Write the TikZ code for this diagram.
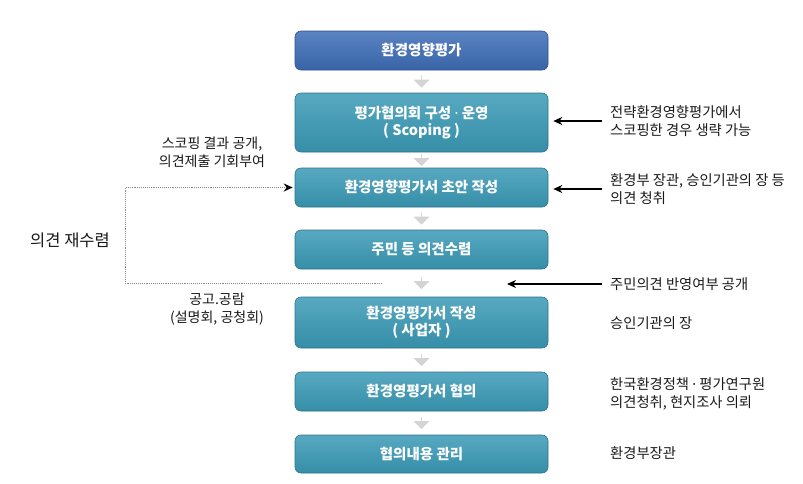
\documentclass[tikz,border=0pt]{standalone}
\usepackage{fontspec}
\setmainfont{Noto Sans CJK KR}
\newfontfamily\dotfont{Noto Sans}
\usetikzlibrary{positioning,calc,arrows.meta,shapes.arrows}

\definecolor{stepteal}{HTML}{3A9AB6}
\definecolor{stepblue}{HTML}{3D6DB6}
\newcommand{\middot}{\ {\dotfont·}\ }

\begin{document}
\begin{tikzpicture}[x=1pt,y=-1pt,font=\fontsize{14.3}{17.5}\selectfont,
  stage/.style={rounded corners=6pt,minimum width=253pt,align=center,text=white,
    font=\fontsize{14.5}{17.5}\selectfont\bfseries,draw=stepteal!75!black,line width=0.6pt,
    top color=stepteal!85!white,bottom color=stepteal!92!black},
  stagetop/.style={stage,draw=stepblue!75!black,top color=stepblue!85!white,bottom color=stepblue!92!black},
  down/.style={single arrow,shape border rotate=270,fill=black!17,draw=none,inner sep=0pt,
    minimum height=12pt,minimum width=16pt,single arrow head extend=3.5pt},
  note/.style={anchor=west,align=left,inner sep=4pt,text=black!90},
  remark/.style={align=center,inner sep=2pt,text=black!90},
  tip/.style={-{Stealth[length=9pt,width=8pt]},line width=1.3pt},
  loop/.style={densely dotted,black!45,line width=0.9pt}
]
\useasboundingbox (0,0) rectangle (803,483);

% steps
\node[stagetop,minimum height=39pt] (eia) at (421.5,50.5) {환경영향평가};
\node[stage,minimum height=59pt] (scoping) at (421.5,122.5) {평가협의회 구성\middot 운영\\( Scoping )};
\node[stage,minimum height=39pt] (draft) at (421.5,187.5) {환경영향평가서 초안 작성};
\node[stage,minimum height=39pt] (hearing) at (421.5,249.5) {주민 등 의견수렴};
\node[stage,minimum height=51pt] (report) at (421.5,322.5) {환경영평가서 작성\\( 사업자 )};
\node[stage,minimum height=39pt] (consult) at (421.5,391.5) {환경영평가서 협의};
\node[stage,minimum height=38pt] (manage) at (421.5,454) {협의내용 관리};

\foreach \a/\b in {eia/scoping,scoping/draft,draft/hearing,hearing/report,report/consult,consult/manage}
  \node[down] (dn-\a) at ($(\a.south)!0.5!(\b.north)$) {};

% notes on the right
\node[note] (skip) at (606,121) {전략환경영향평가에서\\스코핑한 경우 생략 가능};
\node[note] (opinion) at (606,189) {환경부 장관, 승인기관의 장 등\\의견 청취};
\node[note] (publish) at (606,284) {주민의견 반영여부 공개};
\node[note] (approver) at (606,323) {승인기관의 장};
\node[note] (kei) at (606,394) {한국환경정책\middot 평가연구원\\의견청취, 현지조사 의뢰};
\node[note] (minister) at (606,453) {환경부장관};

\coordinate (pubtip) at (507,284);
\draw[tip,shorten <=4pt,shorten >=5pt] (skip.west) -- (skip.west -| scoping.east);
\draw[tip,shorten <=4pt,shorten >=5pt] (opinion.west) -- (opinion.west -| draft.east);
\draw[tip,shorten <=4pt] (publish.west) -- (pubtip);

% notes on the left
\node[remark,font=\fontsize{14}{18}\selectfont] (scopeout) at (212,152) {스코핑 결과 공개,\\의견제출 기회부여};
\node[remark,font=\fontsize{16.5}{18}\selectfont] (recollect) at (70,240) {의견 재수렴};
\node[remark,font=\fontsize{14}{18}\selectfont] (notice) at (217,309) {공고.공람\\(설명회, 공청회)};

% feedback loop
\coordinate (loopend) at (382,283);
\coordinate (loopcorner) at (125,283);
\draw[loop,-{Stealth[black,length=9pt,width=8pt]},shorten >=2pt] (loopend) -- (loopcorner) |- (draft.west);

\end{tikzpicture}
\end{document}
